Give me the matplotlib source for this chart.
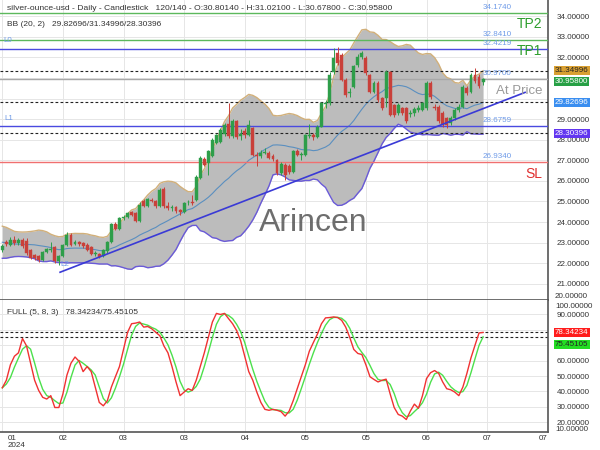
import numpy as np
import pandas as pd
import matplotlib
matplotlib.use("Agg")
import matplotlib.pyplot as plt
from matplotlib.transforms import blended_transform_factory

plt.rcParams["font.family"] = ["Liberation Sans", "DejaVu Sans"]

# ---------------- data ----------------
opens = [22.65, 23.05, 22.90, 23.15, 22.98, 23.12, 23.10, 22.65, 22.40, 22.35,
         22.17, 22.55, 22.65, 22.80, 22.10, 22.35, 22.90, 23.38, 22.95, 23.05,
         22.98, 22.90, 22.80, 22.45, 22.45, 22.35, 22.60, 23.05, 23.90, 23.65,
         24.20, 24.25, 24.50, 24.45, 24.05, 25.00, 24.80, 25.05, 25.00, 24.78,
         25.60, 24.80, 24.70, 24.72, 24.60, 24.50, 24.95, 24.95, 25.08, 26.15,
         27.06, 26.86, 27.20, 27.85, 27.90, 28.30, 28.75, 28.20, 28.90, 28.20,
         28.40, 28.25, 28.56, 27.25, 27.20, 27.35, 27.35, 27.20, 27.00, 26.40,
         26.75, 26.70, 26.45, 27.43, 27.25, 27.27, 28.20, 28.25, 28.15, 28.64,
         29.75, 29.77, 31.30, 32.20, 32.12, 30.91, 30.26, 30.58, 31.64, 32.04,
         31.96, 31.15, 30.34, 30.75, 30.02, 30.02, 31.31, 29.69, 29.29, 29.53,
         29.53, 29.25, 29.29, 29.45, 29.45, 29.53, 30.75, 29.60, 29.61, 29.30,
         29.05, 28.80, 29.05, 29.45, 29.61, 30.50, 30.34, 31.15, 31.07, 30.8014]
highs = [22.95, 23.15, 23.25, 23.30, 23.20, 23.20, 23.20, 22.70, 22.45, 22.40,
         22.60, 22.75, 23.05, 22.85, 22.40, 22.95, 23.50, 23.45, 23.15, 23.10,
         23.05, 23.00, 22.85, 22.60, 22.50, 22.70, 23.10, 23.95, 24.00, 24.25,
         24.35, 24.50, 24.55, 24.50, 24.95, 25.10, 25.15, 25.15, 25.05, 25.65,
         25.70, 24.95, 24.85, 24.80, 24.65, 24.95, 25.05, 25.30, 26.30, 27.20,
         27.15, 27.50, 28.10, 28.30, 28.55, 28.80, 29.78, 29.00, 28.95, 28.50,
         28.55, 28.95, 28.60, 27.40, 27.50, 27.60, 27.45, 27.30, 27.05, 26.90,
         26.85, 26.80, 27.50, 27.55, 27.40, 28.30, 28.75, 28.35, 28.70, 29.85,
         29.95, 31.30, 32.45, 32.50, 32.20, 31.00, 30.50, 31.65, 32.15, 32.30,
         32.05, 31.20, 30.85, 30.85, 30.10, 31.40, 31.35, 29.75, 29.80, 29.60,
         29.60, 29.45, 29.60, 29.70, 29.85, 30.85, 30.85, 29.75, 29.70, 29.40,
         29.10, 29.15, 29.55, 29.75, 30.65, 30.60, 31.25, 31.47, 31.20, 31.021]
lows = [22.55, 22.85, 22.85, 22.90, 22.90, 22.75, 22.40, 22.20, 22.15, 22.05,
        22.10, 22.50, 22.55, 22.00, 21.93, 22.30, 22.85, 22.85, 22.90, 22.85,
        22.75, 22.60, 22.40, 22.35, 22.25, 22.30, 22.50, 23.00, 23.60, 23.60,
        24.10, 24.20, 24.30, 24.00, 24.00, 24.75, 24.75, 24.95, 24.70, 24.75,
        24.70, 24.60, 24.55, 24.45, 24.35, 24.45, 24.85, 24.85, 25.00, 26.10,
        26.70, 26.30, 27.15, 27.80, 27.85, 28.20, 28.10, 28.10, 28.05, 28.00,
        28.10, 28.20, 27.20, 26.70, 27.10, 27.30, 27.05, 26.95, 26.30, 26.30,
        26.05, 26.35, 26.40, 27.20, 27.00, 27.20, 28.10, 28.00, 28.10, 28.60,
        29.55, 29.70, 31.20, 31.65, 30.85, 30.10, 30.10, 30.50, 31.55, 31.90,
        31.15, 30.25, 30.25, 29.85, 29.45, 29.60, 29.15, 29.10, 29.20, 29.20,
        28.80, 29.10, 29.15, 29.35, 29.40, 29.45, 30.00, 29.45, 28.80, 28.60,
        28.55, 28.70, 28.95, 29.35, 29.55, 30.15, 30.25, 30.75, 30.50, 30.678]
closes = [22.85, 22.95, 23.15, 22.98, 23.12, 22.85, 22.50, 22.25, 22.25, 22.15,
          22.55, 22.68, 22.70, 22.10, 22.35, 22.90, 23.38, 22.90, 23.05, 22.95,
          22.85, 22.65, 22.45, 22.50, 22.30, 22.65, 23.05, 23.90, 23.65, 24.20,
          24.25, 24.43, 24.35, 24.05, 24.85, 24.80, 25.10, 25.00, 24.78, 25.55,
          24.78, 24.70, 24.72, 24.55, 24.50, 24.90, 24.98, 24.92, 26.20, 27.10,
          26.78, 27.43, 28.00, 28.24, 28.48, 28.70, 28.20, 28.90, 28.15, 28.30,
          28.25, 28.70, 27.27, 27.20, 27.35, 27.40, 27.10, 27.05, 26.38, 26.80,
          26.30, 26.45, 27.43, 27.27, 27.30, 28.24, 28.25, 28.15, 28.64, 29.78,
          29.80, 31.15, 31.96, 31.72, 30.91, 30.18, 30.34, 31.56, 32.04, 32.20,
          31.23, 30.34, 30.75, 29.94, 29.53, 31.31, 29.21, 29.21, 29.69, 29.29,
          28.89, 29.30, 29.50, 29.55, 29.77, 30.75, 30.10, 29.55, 28.89, 28.72,
          28.72, 29.05, 29.45, 29.61, 30.58, 30.26, 31.15, 30.83, 30.60, 30.958]
# closes before the first shown bar (only used to warm up the 20-bar bands)
warmup_closes = [23.5, 23.7, 23.6, 23.3, 23.0, 22.6, 22.4, 22.5, 22.8, 23.1,
                 23.3, 23.5, 23.4, 23.1, 22.7, 22.5, 22.6, 22.9, 23.0]

stoch_k = [42.4, 47.3, 57.3, 62.9, 65.1, 74.4, 69.6, 58.4, 47.3, 40.7,
           36.2, 35.1, 37.3, 29.6, 29.6, 38.4, 50.7, 58.4, 62.4, 59.6,
           52.9, 56.2, 52.9, 42.9, 32.9, 30.7, 34.0, 42.9, 49.6, 56.2,
           67.3, 78.4, 84.0, 84.4, 85.1, 81.8, 82.2, 80.7, 78.4, 76.2,
           69.6, 65.1, 56.2, 46.2, 37.3, 39.6, 41.8, 40.7, 47.3, 56.2,
           65.1, 75.1, 85.1, 90.7, 90.0, 90.7, 87.3, 84.0, 79.6, 72.9,
           62.9, 52.9, 47.3, 39.6, 32.9, 28.4, 27.8, 28.4, 27.8, 26.9,
           24.0, 27.3, 34.0, 41.8, 49.6, 57.3, 66.2, 71.8, 77.3, 84.0,
           87.8, 88.0, 88.4, 88.0, 86.2, 81.8, 75.1, 67.3, 64.7, 64.0,
           57.3, 49.6, 47.8, 46.2, 47.3, 48.0, 38.4, 29.6, 25.1, 24.0,
           21.8, 27.3, 31.8, 29.1, 37.3, 48.4, 52.2, 53.6, 51.8, 46.2,
           41.8, 41.1, 39.6, 37.3, 42.9, 51.8, 61.8, 70.0, 78.0, 78.34234]

# last indicator values as printed on the chart
bb_last = [29.82696, 31.34996, 28.30396]      # mid / upper / lower
stoch_last = [78.34234, 75.45105]             # %K / %D

tick_bars = [0, 15, 30, 45, 60, 75, 90, 105, 120, 135]
tick_labels = ["01\n2024", "02", "03", "03", "04", "05", "05", "06", "07", "07"]

level_values = [34.1740, 32.8410, 32.4219, 30.9700, 28.6759, 26.9340]
level_colors = ["#5cb85c", "#5cb85c", "#4a4ae0", "#a8a8a8", "#4a4ae0", "#f07070"]
level_labels = ["34.1740", "32.8410", "32.4219", "30.9700", "28.6759", "26.9340"]

trend_bars = [14.3, 129.4]
trend_prices = [21.56, 30.30]

title_main = ("silver-ounce-usd - Daily - Candlestick   120/140 - O:30.80140 - "
              "H:31.02100 - L:30.67800 - C:30.95800")

# ---------------- derived ----------------
o = np.array(opens); h = np.array(highs); l = np.array(lows); c = np.array(closes)
n = len(c)
xb = np.arange(n)
allc = pd.Series(warmup_closes + closes)
mid = allc.rolling(20).mean().to_numpy()[-n:]
sd = allc.rolling(20).std(ddof=0).to_numpy()[-n:]
upper = mid + 2 * sd
lower = mid - 2 * sd
k = pd.Series(stoch_k)
d = k.rolling(3, min_periods=1).mean().to_numpy()

GREEN = "#2e9e4a"
RED = "#c9403a"
W, H = 600, 450

fig = plt.figure(figsize=(6, 4.5), dpi=100)
fig.patch.set_facecolor("white")
ax = fig.add_axes([0, 1 - 300 / H, 548 / W, 300 / H])
ax2 = fig.add_axes([0, 1 - 432 / H, 548 / W, 132 / H], sharex=ax)

xmin, xmax = -0.57, 135.07
ax.set_xlim(xmin, xmax)
ax.set_ylim(20.21, 34.79)
ax2.set_ylim(13.7, 99.4)

for a in (ax, ax2):
    a.set_facecolor("white")
    a.spines["left"].set_visible(False)
    a.spines["top"].set_visible(False)
    a.spines["right"].set_color("#555555")
    a.spines["bottom"].set_color("#555555")
    a.spines["right"].set_linewidth(1.2)
    a.spines["bottom"].set_linewidth(1.2)
    a.yaxis.tick_right()
    a.tick_params(axis="y", length=0, pad=6, labelsize=5.8, labelcolor="#333333")
    a.tick_params(axis="x", length=0, labelbottom=False)
    a.set_xticks(tick_bars)
    a.grid(True, color="#e6e6e6", lw=0.7)
    a.set_axisbelow(True)

main_ticks = [21, 22, 23, 24, 25, 26, 27, 28, 29, 32, 33, 34]
ax.set_yticks(np.arange(21, 35))
ax.set_yticklabels([f"{v:.5f}" if v in main_ticks else "" for v in np.arange(21, 35)])
st_ticks = [20, 30, 40, 50, 60, 90]
ax2.set_yticks(np.arange(20, 100, 10))
ax2.set_yticklabels([f"{v:.5f}" if v in st_ticks else "" for v in np.arange(20, 100, 10)])

# Bollinger band
ax.fill_between(xb, lower, upper, color="#bcbcbc", lw=0, zorder=1)
ax.plot(xb, upper, color="#d2b07a", lw=1.0, zorder=2)
ax.plot(xb, lower, color="#6a5ad8", lw=1.0, zorder=2)
ax.plot(xb, mid, color="#5a8fc0", lw=0.8, zorder=2)

# horizontal levels
for v, col in zip(level_values, level_colors):
    ax.axhline(v, color=col, lw=1.0, zorder=3)
for v, txt in zip(level_values, level_labels):
    ax.text(119.0, v + 0.1, txt, fontsize=5.8, color="#6f9be8", va="bottom", ha="left", zorder=8)
for v in bb_last:
    ax.axhline(v, color="#222222", lw=0.8, ls=(0, (2.5, 2)), zorder=3)

# trend line
ax.plot(trend_bars, trend_prices, color="#3a3ad6", lw=1.2, zorder=6)
ax.text(trend_bars[0], trend_prices[0] + 0.2, "L2", fontsize=5.8, color="#6f9be8",
        ha="left", va="bottom", zorder=3.5)

# candles
cols = np.where(c >= o, GREEN, RED)
ax.vlines(xb, l, h, colors=cols, lw=0.7, zorder=4)
ax.bar(xb, np.maximum(np.abs(c - o), 0.03), bottom=np.minimum(o, c), width=0.72,
       color=cols, edgecolor=cols, lw=0.3, zorder=5)

# stochastic
ax2.plot(xb, k, color="#f03232", lw=1.0, zorder=4)
ax2.plot(xb, d, color="#4ce04c", lw=1.0, zorder=3)
for v in stoch_last:
    ax2.axhline(v, color="#222222", lw=0.8, ls=(0, (2.5, 2)), zorder=2)

# texts
def ftxt(px, py, s, **kw):
    fig.text(px / W, 1 - py / H, s, **kw)

ftxt(7, 9, title_main, fontsize=6.1, color="#333333", va="center")
ftxt(7, 25, "BB (20, 2)   %.5f/%.5f/%.5f" % tuple(bb_last),
     fontsize=6.0, color="#333333", va="center")
ftxt(7, 312, "FULL (5, 8, 3)   %.5f/%.5f" % tuple(stoch_last),
     fontsize=6.0, color="#333333", va="center")
ftxt(3, 41, "L0", fontsize=5.8, color="#6f9be8", va="center")
ftxt(4, 119, "L1", fontsize=5.8, color="#6f9be8", va="center")
ftxt(542, 24, "TP2", fontsize=10, color="#2e9e2e", va="center", ha="right")
ftxt(542, 51, "TP1", fontsize=10, color="#2e9e2e", va="center", ha="right")
ftxt(542, 91, "At Price", fontsize=9.5, color="#9a9a9a", va="center", ha="right")
ftxt(542, 174, "SL", fontsize=10, color="#e03030", va="center", ha="right")
ftxt(313, 223, "Arincen", fontsize=23, color="#555555", alpha=0.85, va="center", ha="center")

ftxt(555, 297, "20.00000", fontsize=5.8, color="#333333", va="center")
ftxt(555, 307, "100.00000", fontsize=5.8, color="#333333", va="center")
ftxt(555, 429.5, "10.00000", fontsize=5.8, color="#333333", va="center")

# value boxes on the right axis
ytr = blended_transform_factory(ax.transAxes, ax.transData)
ytr2 = blended_transform_factory(ax2.transAxes, ax2.transData)
px_main = 20.6      # pixels per price unit
px_st = 1.54        # pixels per stochastic unit
boxes = [(ax, ytr, bb_last[1], 0.0, "#d9a032", "#222222"),
         (ax, ytr, c[-1], 2.8 / px_main, "#27a045", "white"),
         (ax, ytr, bb_last[0], 0.0, "#3a8ef0", "white"),
         (ax, ytr, bb_last[2], 0.0, "#6236f0", "white"),
         (ax2, ytr2, stoch_last[0], 0.0, "#ff1c1c", "white"),
         (ax2, ytr2, stoch_last[1], 8.0 / px_st, "#22dd22", "#222222")]
for a, tr, val, shift, bg, fg in boxes:
    a.text(1.0128, val - shift, f"{val:.5f}", transform=tr, fontsize=5.8, color=fg,
           va="center", ha="left", bbox=dict(boxstyle="square,pad=0.13", fc=bg, ec="none"),
           clip_on=False, zorder=10)

# x tick labels
xtr = blended_transform_factory(ax2.transData, ax2.transAxes)
for i, (tb, lab) in enumerate(zip(tick_bars, tick_labels)):
    ha = "left" if i == 0 else ("right" if i == len(tick_bars) - 1 else "center")
    xoff = 1.3 if i == 0 else 0
    ax2.text(tb + xoff, -0.02, lab, transform=xtr, fontsize=5.8, color="#333333",
             ha=ha, va="top", linespacing=1.1)

fig.savefig("out.png", dpi=100, facecolor="white")
